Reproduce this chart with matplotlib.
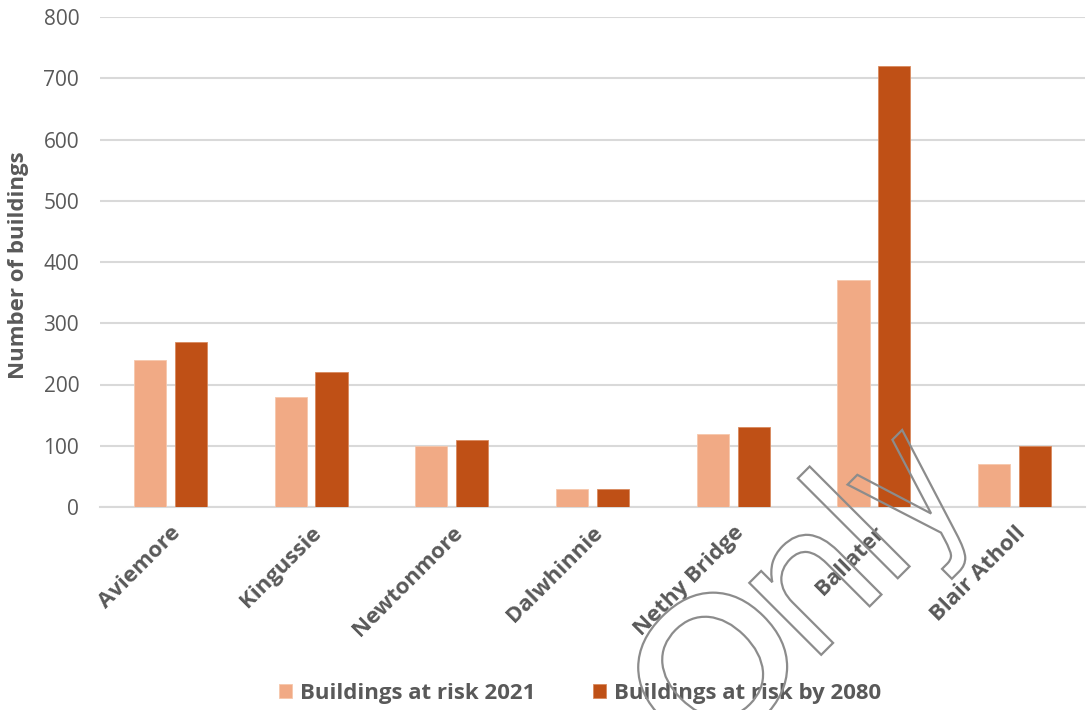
import matplotlib
matplotlib.use("Agg")
import matplotlib.pyplot as plt
from matplotlib.patches import PathPatch
from matplotlib.textpath import TextPath
from matplotlib.font_manager import FontProperties
from matplotlib.transforms import Affine2D
import numpy as np

towns = ["Aviemore", "Kingussie", "Newtonmore", "Dalwhinnie",
         "Nethy Bridge", "Ballater", "Blair Atholl"]
risk_2021 = [240, 180, 100, 30, 120, 370, 70]
risk_2080 = [270, 220, 110, 30, 130, 720, 100]
series_names = ["Buildings at risk 2021", "Buildings at risk by 2080"]
y_ticks = [0, 100, 200, 300, 400, 500, 600, 700, 800]

light = "#F1AA85"
dark = "#BF5016"
text_grey = "#595959"

plt.rcParams["font.family"] = ["Open Sans", "DejaVu Sans"]

W, H = 1092, 710
fig = plt.figure(figsize=(W / 100, H / 100), dpi=100)
ax = fig.add_axes([100 / W, 1 - 507 / H, 985 / W, 490 / H])

x = np.arange(len(towns))
w = 0.228
off = 0.145
ax.bar(x - off, risk_2021, width=w, color=light, label=series_names[0],
       edgecolor="#F6C7AC", linewidth=0.6, zorder=3)
ax.bar(x + off, risk_2080, width=w, color=dark, label=series_names[1],
       edgecolor="#D98A5E", linewidth=0.6, zorder=3)

ax.set_xlim(-0.5, len(towns) - 0.5)
ax.set_ylim(0, 800)
ax.set_yticks(y_ticks)
ax.yaxis.grid(True, color="#D9D9D9", linewidth=1.5, zorder=0)
ax.set_axisbelow(True)
for s in ["top", "right", "left"]:
    ax.spines[s].set_visible(False)
ax.spines["bottom"].set_color("#D9D9D9")
ax.spines["bottom"].set_linewidth(1.5)
ax.tick_params(axis="both", length=0)
ax.tick_params(axis="y", labelsize=15, labelcolor=text_grey, pad=15)

ax.set_xticks(x)
ax.set_xticklabels(towns, rotation=45, ha="right", rotation_mode="anchor",
                   fontsize=16, fontweight="bold", color=text_grey)
ax.tick_params(axis="x", pad=11)

fig.text(19 / W, 1 - 265 / H, "Number of buildings", rotation=90,
         ha="center", va="center", fontsize=16, fontweight="bold",
         color=text_grey)

leg = fig.legend(loc="center", bbox_to_anchor=(580 / W, 1 - 693 / H),
                 ncol=2, frameon=False, fontsize=16, handlelength=0.6,
                 handleheight=0.6, handletextpad=0.35, columnspacing=2.6)
for t in leg.get_texts():
    t.set_color(text_grey)
    t.set_fontweight("bold")

# Outlined "only" stamp, laid out glyph by glyph along a 45-degree baseline.
# Each entry: glyph, distance along the baseline (px), x stretch, y stretch.
stamp_glyphs = [("o", -95, 1.54, 1.34), ("n", 33, 1.0, 1.0),
                ("l", 107, 1.0, 1.0), ("y", 168, 0.78, 1.0)]
stamp_origin = (828, 648)       # pixel position (from top-left) on the baseline
stamp_size = 186                # em size in pixels
stamp_angle = 45
fp = FontProperties(family="DejaVu Sans")
ux, uy = np.cos(np.radians(stamp_angle)), np.sin(np.radians(stamp_angle))
for ch, s, sx, sy in stamp_glyphs:
    p = TextPath((0, 0), ch, size=stamp_size, prop=fp)
    ext = p.get_extents()
    cx = (ext.x0 + ext.x1) / 2
    bx = stamp_origin[0] + s * ux
    by = H - stamp_origin[1] + s * uy
    tr = (Affine2D().translate(-cx, 0).scale(sx, sy)
          .rotate_deg(stamp_angle).translate(bx, by))
    patch = PathPatch(tr.transform_path(p), facecolor="none",
                      edgecolor="#8C8C8C", linewidth=1.6,
                      transform=None, zorder=10)
    fig.patches.append(patch)

fig.savefig("out.png", dpi=100)
